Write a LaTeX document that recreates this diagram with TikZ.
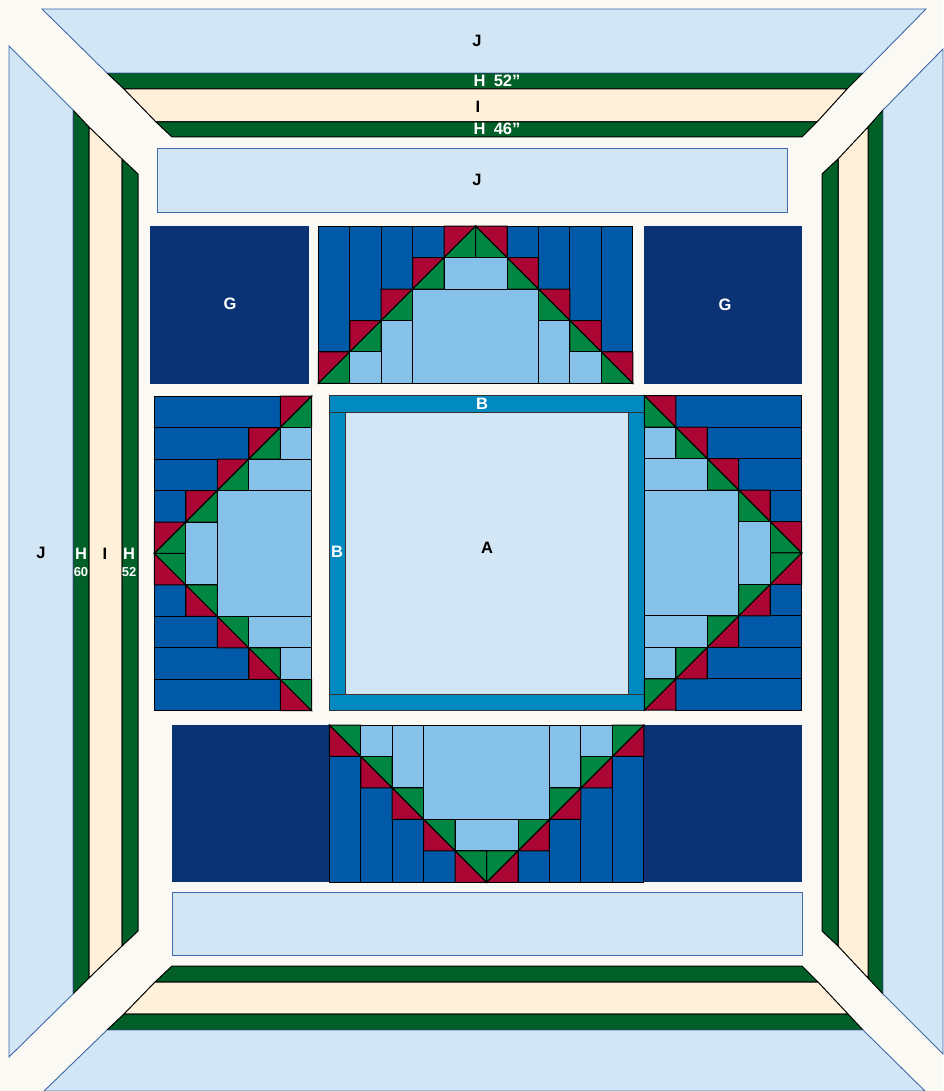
\documentclass[tikz,border=0pt]{standalone}
\usepackage{xcolor}
\usepackage{fontspec}
\setmainfont{Liberation Sans}
\definecolor{quiltbg}{HTML}{FBF9F4}
\definecolor{skyblue}{HTML}{D3E6F6}
\definecolor{skyedge}{HTML}{3F69A8}
\definecolor{bandgreen}{HTML}{006028}
\definecolor{bandcream}{HTML}{FFF0D9}
\definecolor{blockblue}{HTML}{005AA8}
\definecolor{paleblue}{HTML}{85C1E9}
\definecolor{trired}{HTML}{AB0534}
\definecolor{trigreen}{HTML}{008641}
\definecolor{darknavy}{HTML}{0A3274}
\definecolor{sashblue}{HTML}{008ABF}
\tikzset{
  skypiece/.style={draw=skyedge,fill=skyblue,line width=0.9pt},
  hband/.style={draw=black,fill=bandgreen,line width=1pt},
  iband/.style={draw=black,fill=bandcream,line width=1pt},
  patch/.style={draw=black,line width=1pt},
  gpatch/.style={fill=darknavy},
  sashpiece/.style={draw=black!80,fill=sashblue,line width=1pt},
  quiltunit/.style={x=31.45pt,y=31.45pt},
  darklabel/.style={font=\bfseries\fontsize{16.5}{16.5}\selectfont,text=black,inner sep=0pt},
  whitelabel/.style={font=\bfseries\fontsize{16.5}{16.5}\selectfont,text=white,inner sep=0pt},
  smalllabel/.style={font=\bfseries\fontsize{13}{13}\selectfont,text=white,inner sep=0pt}
}
% one ten by five pieced block, point upwards
\newcommand{\piecedblock}{
  \foreach \i in {0,...,3} {
    \draw[patch,fill=blockblue] (\i,\i+1) rectangle ++(1,4-\i);
    \draw[patch,fill=blockblue] (9-\i,\i+1) rectangle ++(1,4-\i);
  }
  \foreach \i in {0,...,4} {
    \draw[patch,fill=trired] (\i,\i) -- ++(1,1) -- ++(-1,0) -- cycle;
    \draw[patch,fill=trigreen] (\i,\i) -- ++(1,1) -- ++(0,-1) -- cycle;
    \draw[patch,fill=trired] (10-\i,\i) -- ++(-1,1) -- ++(1,0) -- cycle;
    \draw[patch,fill=trigreen] (10-\i,\i) -- ++(-1,1) -- ++(0,-1) -- cycle;
  }
  \draw[patch,fill=paleblue] (1,0) rectangle (2,1);
  \draw[patch,fill=paleblue] (2,0) rectangle (3,2);
  \draw[patch,fill=paleblue] (3,0) rectangle (7,3);
  \draw[patch,fill=paleblue] (4,3) rectangle (6,4);
  \draw[patch,fill=paleblue] (7,0) rectangle (8,2);
  \draw[patch,fill=paleblue] (8,0) rectangle (9,1);
}
\begin{document}
\begin{tikzpicture}[x=1pt,y=-1pt]
  \useasboundingbox[fill=quiltbg] (0,0) rectangle (943,1091);
  % top border
  \draw[hband] (107,73) -- (863,73) -- (847,89) -- (124,89) -- cycle;
  \draw[iband] (124,89) -- (847,89) -- (817,122) -- (156,122) -- cycle;
  \draw[hband] (156,122) -- (817,122) -- (802,137) -- (172,137) -- cycle;
  \draw[skypiece] (42,9) -- (926,9) -- (863,73) -- (107,73) -- cycle;
  % bottom border
  \draw[hband] (172,966) -- (802,966) -- (818,982) -- (155,982) -- cycle;
  \draw[iband] (155,982) -- (818,982) -- (848,1014) -- (124,1014) -- cycle;
  \draw[hband] (124,1014) -- (848,1014) -- (863,1030) -- (107,1030) -- cycle;
  \draw[skypiece] (107,1030) -- (863,1030) -- (925,1091) -- (44,1091) -- cycle;
  % left border
  \draw[hband] (73,110) -- (89,127) -- (89,978) -- (73,994) -- cycle;
  \draw[iband] (89,127) -- (122,159) -- (122,946) -- (89,978) -- cycle;
  \draw[hband] (122,159) -- (138,174) -- (138,931) -- (122,946) -- cycle;
  \draw[skypiece] (9,46) -- (73,110) -- (73,994) -- (9,1057) -- cycle;
  % right border
  \draw[hband] (883,110) -- (868,127) -- (868,978) -- (883,994) -- cycle;
  \draw[iband] (868,127) -- (838,159) -- (838,946) -- (868,978) -- cycle;
  \draw[hband] (838,159) -- (822,174) -- (822,931) -- (838,946) -- cycle;
  \draw[skypiece] (943,49) -- (883,110) -- (883,994) -- (943,1054) -- cycle;
  % inner light strips
  \draw[skypiece] (157,148) rectangle (787,212);
  \draw[skypiece] (172,892) rectangle (802,955);
  % dark corner squares
  \fill[gpatch] (150,226) rectangle (309,383.5);
  \fill[gpatch] (643.5,226) rectangle (802,383.5);
  \fill[gpatch] (172,725) rectangle (329.5,882);
  \fill[gpatch] (644,725) rectangle (802,882);
  % centre square with sashing
  \draw[skypiece,draw=black] (345.7,412.5) rectangle (628,694.3);
  \draw[sashpiece] (329.3,412.5) rectangle (345.7,694.3);
  \draw[sashpiece] (628,412.5) rectangle (644.3,694.3);
  \draw[sashpiece] (329.3,395.7) rectangle (644.3,412.5);
  \draw[sashpiece] (329.3,694.3) rectangle (644.3,710.7);
  % the four pieced blocks
  \begin{scope}[shift={(318.3,383.4)},quiltunit]
    \piecedblock
  \end{scope}
  \begin{scope}[shift={(311.7,710.7)},rotate=90,quiltunit]
    \piecedblock
  \end{scope}
  \begin{scope}[shift={(644.3,395.7)},rotate=-90,quiltunit]
    \piecedblock
  \end{scope}
  \begin{scope}[shift={(643.8,725)},rotate=180,quiltunit]
    \piecedblock
  \end{scope}
  % labels
  \node[darklabel] (jtop) at (477,41) {J};
  \node[whitelabel] (hfiftytwo) at (497,81) {H\hspace{0.5em}52\char34};
  \node[darklabel] (itop) at (478,107) {I};
  \node[whitelabel] (hfortysix) at (497,129) {H\hspace{0.5em}46\char34};
  \node[darklabel] (jstrip) at (477,180) {J};
  \node[whitelabel] (gleft) at (230,304) {G};
  \node[whitelabel] (gright) at (725,305) {G};
  \node[whitelabel] (btop) at (482,404) {B};
  \node[whitelabel] (bleft) at (337,552) {B};
  \node[darklabel] (acentre) at (487,548) {A};
  \node[darklabel] (jleft) at (41,553) {J};
  \node[whitelabel] (hsixty) at (81,554) {H};
  \node[smalllabel] (nsixty) at (81,572) {60};
  \node[darklabel] (ileft) at (105,554) {I};
  \node[whitelabel] (hinner) at (129,554) {H};
  \node[smalllabel] (ninner) at (129,572) {52};
\end{tikzpicture}
\end{document}
